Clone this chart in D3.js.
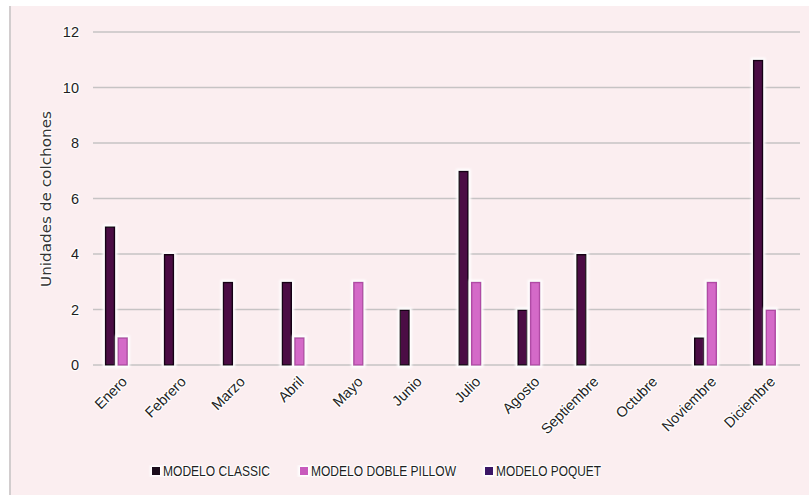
<!DOCTYPE html>
<html>
<head>
<meta charset="utf-8">
<script src="https://cdn.jsdelivr.net/npm/d3@7"></script>
<style>
  html, body { margin: 0; padding: 0; background: #ffffff; }
  svg { display: block; }
  .lbl { fill: #1f1f1f; stroke: #ffffff; stroke-width: 2.6px; stroke-opacity: 0.85;
         paint-order: stroke; stroke-linejoin: round; }
  .title { fill: #333333; stroke: #ffffff; stroke-width: 2.2px; stroke-opacity: 0.8;
           paint-order: stroke; stroke-linejoin: round; }
</style>
</head>
<body>
<svg id="chart" width="809" height="495"></svg>
<script>
// Monthly mattress units per model
const months = ["Enero", "Febrero", "Marzo", "Abril", "Mayo", "Junio", "Julio",
                "Agosto", "Septiembre", "Octubre", "Noviembre", "Diciembre"];
const seriesNames = ["MODELO CLASSIC", "MODELO DOBLE PILLOW", "MODELO POQUET"];
const classic     = [5, 4, 3, 3, 0, 2, 7, 2, 4, 0, 1, 11];
const doblePillow = [1, 0, 0, 1, 3, 0, 3, 3, 0, 0, 3, 2];
const poquet      = [0, 0, 0, 0, 0, 0, 0, 0, 0, 0, 0, 0];
const yTicks = [0, 2, 4, 6, 8, 10, 12];

(function draw() {
  const seriesValues = [classic, doblePillow, poquet];
  const fills   = ["#4b1044", "#d46ac8", "#3c1468"];
  const strokes = ["#160414", "#b04ca5", "#1e0a38"];
  const legendFills = ["#1c0a1a", "#c85abc", "#3a1466"];
  const font = "Liberation Sans, Arial, sans-serif";

  const svg = d3.select("#chart");
  const W = 809, H = 495;

  // Panel background and left border
  svg.append("rect").attr("x", 0).attr("y", 0).attr("width", W).attr("height", H).attr("fill", "#ffffff");
  svg.append("rect").attr("x", 11).attr("y", 6).attr("width", W - 11).attr("height", H - 6).attr("fill", "#fbeef0");
  svg.append("rect").attr("x", 9).attr("y", 6).attr("width", 2).attr("height", H - 6).attr("fill", "#d2cdce");

  // Soft white glow around the bars
  const defs = svg.append("defs");
  const glow = defs.append("filter").attr("id", "glow")
    .attr("x", "-50%").attr("y", "-20%").attr("width", "200%").attr("height", "140%");
  glow.append("feMorphology").attr("in", "SourceAlpha").attr("operator", "dilate").attr("radius", 1.5).attr("result", "d");
  glow.append("feGaussianBlur").attr("in", "d").attr("stdDeviation", 1).attr("result", "b");
  glow.append("feFlood").attr("flood-color", "#ffffff").attr("result", "w");
  glow.append("feComposite").attr("in", "w").attr("in2", "b").attr("operator", "in").attr("result", "g");
  const merge = glow.append("feMerge");
  merge.append("feMergeNode").attr("in", "g");
  merge.append("feMergeNode").attr("in", "SourceGraphic");

  const plotLeft = 93, plotRight = 800, plotTop = 32, plotBottom = 365;

  const x0 = d3.scaleBand().domain(months).range([plotLeft, plotRight]).padding(0);
  const x1 = d3.scaleBand().domain(d3.range(seriesNames.length))
    .range([11.8, x0.bandwidth() - 11.4]).paddingInner(0.17).paddingOuter(0);
  const y = d3.scaleLinear().domain([0, 12]).range([plotBottom, plotTop]);

  // Horizontal gridlines
  svg.append("g").selectAll("line").data(yTicks).join("line")
    .attr("x1", plotLeft).attr("x2", plotRight)
    .attr("y1", d => y(d)).attr("y2", d => y(d))
    .attr("stroke", "#c6c3c4").attr("stroke-width", 1.5);

  // Y axis tick labels
  const yAxis = d3.axisLeft(y).tickValues(yTicks).tickSize(0).tickPadding(0);
  const yg = svg.append("g").attr("transform", `translate(79,0)`).call(yAxis);
  yg.select(".domain").remove();
  yg.attr("font-size", null).attr("font-family", null);
  yg.selectAll("text").attr("class", "lbl").attr("font-size", 14.5).attr("font-family", font);

  // Y axis title
  svg.append("text").attr("class", "title")
    .attr("transform", `translate(51,199) rotate(-90)`)
    .attr("text-anchor", "middle").attr("font-size", 14).attr("font-family", "DejaVu Sans, sans-serif")
    .attr("textLength", 176).attr("lengthAdjust", "spacingAndGlyphs")
    .text("Unidades de colchones");

  // Bars
  const groups = svg.append("g").selectAll("g").data(months).join("g")
    .attr("transform", d => `translate(${x0(d)},0)`);
  groups.selectAll("rect")
    .data((m, i) => seriesValues.map((vals, s) => ({ s, v: vals[i] })).filter(d => d.v > 0))
    .join("rect")
    .attr("x", d => x1(d.s) + 0.75)
    .attr("width", x1.bandwidth() - 1.5)
    .attr("y", d => y(d.v) + 0.75)
    .attr("height", d => y(0) - y(d.v) - 0.75)
    .attr("fill", d => fills[d.s])
    .attr("stroke", d => strokes[d.s])
    .attr("stroke-width", 1.5)
    .attr("filter", "url(#glow)");

  // X axis labels, rotated
  const xAxis = d3.axisBottom(x0).tickSize(0).tickPadding(0);
  const xg = svg.append("g").attr("transform", `translate(2,${plotBottom + 14})`).call(xAxis);
  xg.select(".domain").remove();
  xg.attr("font-size", null).attr("font-family", null);
  xg.selectAll("text").attr("class", "lbl")
    .attr("font-size", 14.5).attr("font-family", font)
    .attr("text-anchor", "end").attr("dy", "0.35em").attr("y", 0)
    .attr("transform", "rotate(-45)");

  // Legend
  const legendX = [152, 300, 485];
  const lg = svg.append("g").selectAll("g").data(seriesNames).join("g")
    .attr("transform", (d, i) => `translate(${legendX[i]},471)`);
  lg.append("rect").attr("x", 0).attr("y", -4).attr("width", 8).attr("height", 8)
    .attr("fill", (d, i) => legendFills[i]).attr("filter", "url(#glow)");
  lg.append("text").attr("class", "lbl").attr("x", 11).attr("y", 0).attr("dy", "0.36em")
    .attr("font-size", 15).attr("font-family", "Liberation Sans Narrow, Liberation Sans, Arial, sans-serif")
    .attr("textLength", (d, i) => [107, 145, 105][i]).attr("lengthAdjust", "spacingAndGlyphs")
    .text(d => d);
})();
</script>
</body>
</html>
